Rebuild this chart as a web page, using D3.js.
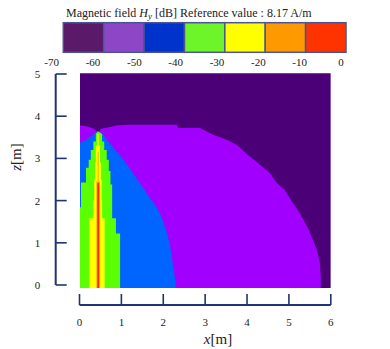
<!DOCTYPE html>
<html>
<head>
<meta charset="utf-8">
<script src="https://cdn.jsdelivr.net/npm/d3@7"></script>
<style>
  body { margin: 0; background: #fff; }
</style>
</head>
<body>
<script>
// colour bar
const cbLevels = [-70, -60, -50, -40, -30, -20, -10, 0];
const cbColors = ['#5b1a69', '#8d47c6', '#0033cc', '#6ef52a', '#ffff00', '#ff9900', '#ff3300'];

// axes
const xTicks = [0, 1, 2, 3, 4, 5, 6];
const zTicks = [0, 1, 2, 3, 4, 5];

// field map colours (lowest level first)
const mapColors = ['#4c0078', '#a100ff', '#0064ff', '#5aff00', '#ffff00', '#ff9a00', '#ff2a00'];

// region outlines [x, z] in metres, one per level above -60 dB
const purpleRegion = [[-0.1, -0.1], [-0.1, 3.80], [0.155, 3.76], [0.35, 3.70], [0.41, 3.64], [0.47, 3.64],
  [0.51, 3.70], [0.71, 3.74], [0.87, 3.78], [1.11, 3.80], [2.33, 3.80], [2.35, 3.72], [2.88, 3.72],
  [3.19, 3.56], [3.52, 3.44], [3.76, 3.32], [4.0, 3.10], [4.24, 2.91], [4.55, 2.65], [4.71, 2.42],
  [4.90, 2.25], [5.05, 2.01], [5.21, 1.78], [5.35, 1.54], [5.48, 1.30], [5.57, 1.07], [5.67, 0.83],
  [5.74, 0.52], [5.76, 0.20], [5.76, -0.1]];
const blueRegion = [[-0.1, -0.1], [-0.1, 3.32], [0.155, 3.44], [0.27, 3.52], [0.41, 3.64], [0.47, 3.64],
  [0.57, 3.56], [0.81, 3.25], [1.05, 2.97], [1.28, 2.65], [1.52, 2.30], [1.72, 2.01], [1.83, 1.86],
  [1.92, 1.70], [2.0, 1.50], [2.08, 1.26], [2.16, 0.95], [2.22, 0.55], [2.29, 0.10], [2.30, -0.1]];
const greenRegion = [[-0.1, -0.1], [-0.1, 1.84], [0.035, 1.84], [0.035, 2.43], [0.155, 2.43], [0.155, 2.78],
  [0.22, 2.78], [0.22, 2.97], [0.27, 2.97], [0.27, 3.20], [0.33, 3.20], [0.33, 3.40], [0.39, 3.40],
  [0.39, 3.58], [0.43, 3.63], [0.46, 3.63], [0.54, 3.58], [0.54, 3.40], [0.59, 3.40], [0.59, 3.20],
  [0.65, 3.20], [0.65, 2.97], [0.70, 2.97], [0.70, 2.70], [0.74, 2.70], [0.74, 2.38], [0.78, 2.38],
  [0.78, 1.58], [0.87, 1.58], [0.87, 1.22], [0.97, 1.22], [0.97, -0.1]];
const yellowRegion = [[0.23, -0.1], [0.23, 1.58], [0.33, 1.58], [0.33, 2.00], [0.35, 2.00], [0.35, 2.50],
  [0.37, 2.50], [0.37, 2.90], [0.39, 2.90], [0.39, 3.30], [0.42, 3.30], [0.42, 3.58], [0.46, 3.58],
  [0.46, 3.30], [0.49, 3.30], [0.49, 2.90], [0.51, 2.90], [0.51, 2.50], [0.53, 2.50], [0.53, 2.00],
  [0.54, 2.00], [0.54, 1.58], [0.60, 1.58], [0.60, -0.1]];
const orangeRegion = [[0.405, -0.1], [0.405, 2.45], [0.435, 2.45], [0.435, 3.15], [0.455, 3.15], [0.455, 2.45],
  [0.485, 2.45], [0.485, -0.1]];
const redRegion = [[0.425, -0.1], [0.425, 2.42], [0.467, 2.42], [0.467, -0.1]];
const regions = [purpleRegion, blueRegion, greenRegion, yellowRegion, orangeRegion, redRegion];

const width = 390, height = 349;
const axisColor = '#1f3470';
const serif = '"Liberation Serif", "Times New Roman", "DejaVu Serif", serif';

const svg = d3.select('body').append('svg')
  .attr('width', width)
  .attr('height', height)
  .attr('font-family', serif)
  .style('font-family', serif);

// title
const title = svg.append('text')
  .attr('x', 66).attr('y', 16.5)
  .attr('fill', '#222')
  .attr('font-size', 12);
title.append('tspan').text('Magnetic field ');
title.append('tspan').attr('font-style', 'italic').text('H');
title.append('tspan').attr('font-style', 'italic').attr('font-size', 9).attr('dy', 2.5).text('y');
title.append('tspan').attr('dy', -2.5).text('  [dB] Reference value : 8.17 A/m');

// colour bar
const cbBox = d3.scaleLinear().domain([-70, 0]).range([63.3, 346]);
const cbLabel = d3.scaleLinear().domain([-70, 0]).range([51.7, 341]);

svg.append('g').selectAll('rect')
  .data(cbColors)
  .enter().append('rect')
  .attr('x', (d, i) => cbBox(cbLevels[i]))
  .attr('y', 22.7)
  .attr('width', (d, i) => cbBox(cbLevels[i + 1]) - cbBox(cbLevels[i]))
  .attr('height', 29.6)
  .attr('fill', d => d)
  .attr('stroke', '#4b5596')
  .attr('stroke-width', 1.5);

svg.append('g').selectAll('text')
  .data(cbLevels)
  .enter().append('text')
  .attr('x', d => cbLabel(d))
  .attr('y', 66)
  .attr('text-anchor', 'middle')
  .attr('fill', '#222')
  .attr('font-size', 11)
  .text(d => d);

// scales
const x = d3.scaleLinear().domain([0, 6]).range([79.5, 330.8]);
const y = d3.scaleLinear().domain([0, 5]).range([285, 74]);

svg.append('clipPath').attr('id', 'map')
  .append('rect')
  .attr('x', x(0) + 0.5).attr('y', y(5.02))
  .attr('width', x(6) - x(0) - 0.5)
  .attr('height', y(-0.07) - y(5.02));

const map = svg.append('g').attr('clip-path', 'url(#map)');

map.append('rect')
  .attr('x', x(0)).attr('y', y(5.1))
  .attr('width', x(6) - x(0))
  .attr('height', y(-0.1) - y(5.1))
  .attr('fill', mapColors[0]);

const line = d3.line()
  .x(d => x(d[0]))
  .y(d => y(d[1]));

map.selectAll('path')
  .data(regions)
  .enter().append('path')
  .attr('d', d => line(d) + 'Z')
  .attr('fill', (d, i) => mapColors[i + 1]);

// y axis (bracket style)
const yAxis = svg.append('g').attr('stroke', axisColor);
yAxis.append('line')
  .attr('x1', 55.7).attr('x2', 55.7)
  .attr('y1', y(5)).attr('y2', y(0))
  .attr('stroke-width', 2);
yAxis.selectAll('.tick')
  .data(zTicks)
  .enter().append('line')
  .attr('class', 'tick')
  .attr('x1', 55.7).attr('x2', 66.7)
  .attr('y1', d => y(d)).attr('y2', d => y(d))
  .attr('stroke-width', 1.6);

svg.append('g').selectAll('text')
  .data(zTicks)
  .enter().append('text')
  .attr('x', 37.5)
  .attr('y', d => y(d) + 4)
  .attr('text-anchor', 'middle')
  .attr('fill', '#222')
  .attr('font-size', 11)
  .text(d => d);

// x axis (bracket style)
const xAxis = svg.append('g').attr('stroke', axisColor);
xAxis.append('line')
  .attr('x1', x(0)).attr('x2', x(6))
  .attr('y1', 305).attr('y2', 305)
  .attr('stroke-width', 2);
xAxis.selectAll('.tick')
  .data(xTicks)
  .enter().append('line')
  .attr('class', 'tick')
  .attr('x1', d => x(d)).attr('x2', d => x(d))
  .attr('y1', 305).attr('y2', 294)
  .attr('stroke-width', 1.6);

svg.append('g').selectAll('text')
  .data(xTicks)
  .enter().append('text')
  .attr('x', d => x(d))
  .attr('y', 325.5)
  .attr('text-anchor', 'middle')
  .attr('fill', '#222')
  .attr('font-size', 11)
  .text(d => d);

// axis titles
const xt = svg.append('text')
  .attr('x', 218).attr('y', 344)
  .attr('text-anchor', 'middle')
  .attr('fill', '#222')
  .attr('font-size', 15);
xt.append('tspan').attr('font-style', 'italic').text('x');
xt.append('tspan').text('[m]');

const zt = svg.append('text')
  .attr('transform', 'translate(21,157) rotate(-90)')
  .attr('text-anchor', 'middle')
  .attr('fill', '#222')
  .attr('font-size', 15);
zt.append('tspan').attr('font-style', 'italic').text('z');
zt.append('tspan').text('[m]');
</script>
</body>
</html>
